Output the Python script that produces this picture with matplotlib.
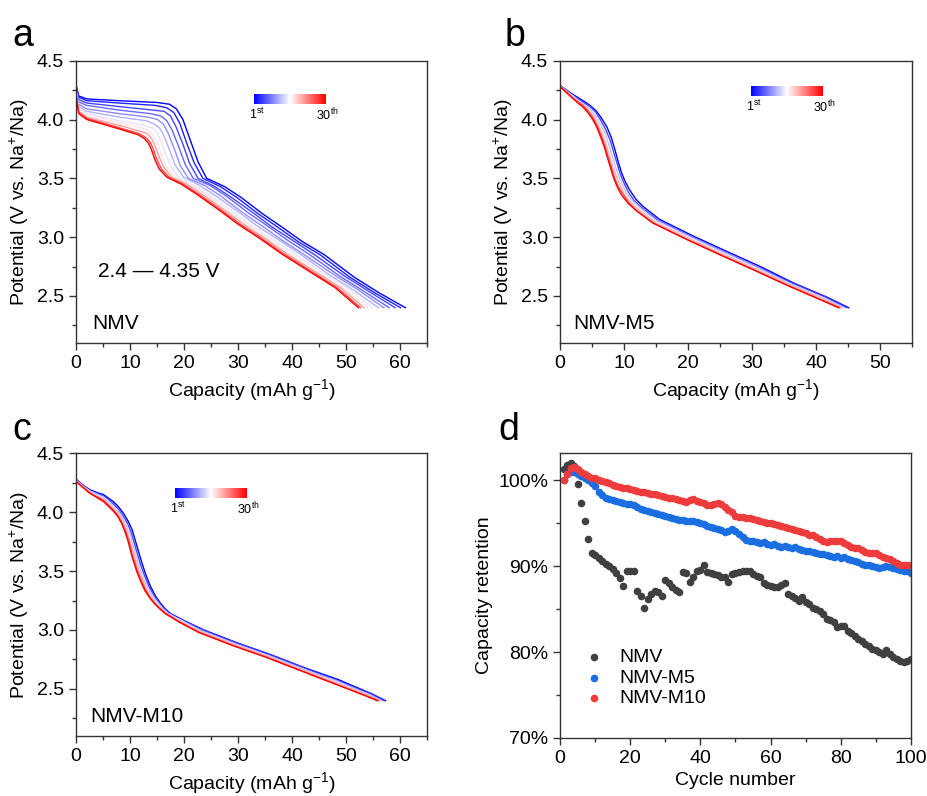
import numpy as np
import matplotlib
matplotlib.use('Agg')
import matplotlib.pyplot as plt
from matplotlib.ticker import MultipleLocator

plt.rcParams['font.family'] = ['Liberation Sans', 'DejaVu Sans']
plt.rcParams['mathtext.fontset'] = 'custom'
plt.rcParams['mathtext.rm'] = 'Liberation Sans'
plt.rcParams['mathtext.it'] = 'Liberation Sans:italic'
plt.rcParams['mathtext.bf'] = 'Liberation Sans:bold'

# ---- panel a: NMV discharge curves (capacity mAh/g, potential V) ----
nmv_cycles = [1, 3, 5, 7, 9, 11, 14, 17, 21, 26, 30]
nmv_cap = [
    [0, 0.5, 2, 8, 15.0, 17.3, 18.6, 19.8, 21.2, 22.6, 24.2, 27.5, 30.5, 34.5, 38.0, 42.0, 46.0, 51.5, 56.0, 61.0],
    [0, 0.5, 2, 8, 14.7, 16.8, 18.1, 19.2, 20.5, 21.9, 23.5, 26.7, 29.7, 33.7, 37.2, 41.2, 45.2, 50.7, 55.2, 60.1],
    [0, 0.5, 2, 8, 14.2, 16.3, 17.5, 18.5, 19.8, 21.0, 22.6, 25.7, 28.7, 32.7, 36.2, 40.2, 44.2, 49.7, 54.2, 59.1],
    [0, 0.5, 2, 8, 13.8, 15.7, 16.8, 17.8, 19.0, 20.2, 21.7, 24.8, 27.8, 31.8, 35.3, 39.3, 43.3, 48.8, 53.3, 58.0],
    [0, 0.5, 2, 8, 13.4, 15.1, 16.2, 17.1, 18.2, 19.3, 20.8, 23.8, 26.8, 30.8, 34.3, 38.3, 42.3, 47.8, 52.3, 57.0],
    [0, 0.5, 2, 8, 13.0, 14.6, 15.6, 16.4, 17.4, 18.4, 19.9, 22.9, 25.9, 29.9, 33.4, 37.4, 41.4, 46.9, 51.4, 56.0],
    [0, 0.5, 2, 8, 12.6, 14.0, 15.0, 15.7, 16.6, 17.6, 19.0, 21.9, 24.9, 28.9, 32.4, 36.4, 40.4, 45.9, 50.4, 54.9],
    [0, 0.5, 2, 8, 12.2, 13.5, 14.4, 15.2, 15.9, 16.8, 18.3, 21.1, 24.1, 28.1, 31.6, 35.6, 39.6, 45.1, 49.6, 54.0],
    [0, 0.5, 2, 8, 11.9, 13.2, 14.0, 14.7, 15.4, 16.3, 17.7, 20.5, 23.5, 27.5, 31.0, 35.0, 39.0, 44.5, 49.0, 53.3],
    [0, 0.5, 2, 8, 11.7, 12.8, 13.7, 14.3, 14.9, 15.8, 17.2, 19.9, 22.9, 26.9, 30.4, 34.4, 38.4, 43.9, 48.4, 52.7],
    [0, 0.5, 2, 8, 11.5, 12.6, 13.4, 14.0, 14.6, 15.4, 16.8, 19.5, 22.5, 26.5, 30.0, 34.0, 38.0, 43.5, 48.0, 52.3],
]
nmv_volt = [
    [4.30, 4.20, 4.175, 4.16, 4.145, 4.13, 4.09, 4.00, 3.82, 3.64, 3.50, 3.43, 3.34, 3.20, 3.09, 2.96, 2.85, 2.66, 2.53, 2.40],
    [4.29, 4.19, 4.16, 4.14, 4.12, 4.10, 4.06, 3.97, 3.80, 3.63, 3.50, 3.43, 3.34, 3.20, 3.09, 2.96, 2.85, 2.66, 2.53, 2.40],
    [4.28, 4.17, 4.14, 4.11, 4.08, 4.07, 4.03, 3.94, 3.79, 3.63, 3.50, 3.43, 3.34, 3.21, 3.09, 2.97, 2.85, 2.67, 2.54, 2.40],
    [4.27, 4.15, 4.12, 4.08, 4.05, 4.03, 3.99, 3.91, 3.77, 3.62, 3.50, 3.44, 3.35, 3.21, 3.10, 2.97, 2.85, 2.67, 2.54, 2.40],
    [4.26, 4.13, 4.09, 4.05, 4.02, 4.00, 3.96, 3.88, 3.75, 3.61, 3.50, 3.44, 3.35, 3.21, 3.10, 2.97, 2.85, 2.68, 2.55, 2.40],
    [4.25, 4.11, 4.07, 4.02, 3.99, 3.96, 3.92, 3.85, 3.73, 3.61, 3.51, 3.44, 3.35, 3.22, 3.10, 2.98, 2.86, 2.68, 2.55, 2.40],
    [4.24, 4.10, 4.05, 3.99, 3.95, 3.93, 3.89, 3.82, 3.71, 3.60, 3.51, 3.44, 3.35, 3.22, 3.10, 2.98, 2.86, 2.69, 2.56, 2.40],
    [4.24, 4.08, 4.04, 3.97, 3.93, 3.90, 3.86, 3.79, 3.69, 3.59, 3.51, 3.45, 3.36, 3.22, 3.11, 2.98, 2.86, 2.69, 2.56, 2.40],
    [4.23, 4.07, 4.02, 3.95, 3.90, 3.88, 3.84, 3.77, 3.68, 3.59, 3.51, 3.45, 3.36, 3.23, 3.11, 2.99, 2.86, 2.70, 2.57, 2.40],
    [4.22, 4.06, 4.01, 3.93, 3.88, 3.85, 3.81, 3.75, 3.67, 3.58, 3.51, 3.45, 3.36, 3.23, 3.11, 2.99, 2.86, 2.70, 2.57, 2.40],
    [4.22, 4.05, 4.00, 3.92, 3.87, 3.84, 3.80, 3.74, 3.66, 3.58, 3.51, 3.45, 3.36, 3.23, 3.11, 2.99, 2.86, 2.70, 2.57, 2.40],
]

# ---- panel b: NMV-M5 ----
m5_cycles = [1, 5, 12, 20, 26, 30]
m5_cap = [
    [0, 1.0, 2.1, 3.0, 3.9, 4.8, 5.7, 6.5, 7.3, 8.0, 8.6, 9.1, 9.6, 10.2, 10.9, 11.9, 13.0, 15.6, 20.8, 26.0, 31.3, 36.5, 41.7, 45.1],
    [0, 1.0, 2.1, 3.0, 3.8, 4.7, 5.6, 6.3, 7.1, 7.8, 8.4, 8.9, 9.4, 10.0, 10.6, 11.6, 12.8, 15.4, 20.6, 25.8, 31.1, 36.3, 41.5, 44.8],
    [0, 1.0, 2.1, 2.9, 3.7, 4.5, 5.4, 6.1, 6.9, 7.5, 8.1, 8.6, 9.1, 9.7, 10.3, 11.3, 12.5, 15.1, 20.4, 25.6, 30.9, 36.1, 41.2, 44.4],
    [0, 1.0, 2.0, 2.9, 3.6, 4.4, 5.2, 5.9, 6.6, 7.2, 7.8, 8.3, 8.8, 9.4, 10.0, 11.0, 12.2, 14.8, 20.1, 25.3, 30.6, 35.8, 40.9, 44.0],
    [0, 1.0, 2.0, 2.8, 3.6, 4.3, 5.1, 5.8, 6.4, 7.0, 7.6, 8.1, 8.5, 9.1, 9.8, 10.8, 11.9, 14.6, 19.9, 25.1, 30.4, 35.6, 40.7, 43.7],
    [0, 1.0, 2.0, 2.8, 3.5, 4.2, 5.0, 5.7, 6.3, 6.9, 7.5, 8.0, 8.4, 9.0, 9.6, 10.6, 11.8, 14.5, 19.8, 25.0, 30.3, 35.5, 40.6, 43.5],
]
m5_volt = [
    [4.29, 4.25, 4.21, 4.18, 4.15, 4.115, 4.07, 4.01, 3.94, 3.85, 3.74, 3.64, 3.55, 3.47, 3.40, 3.32, 3.26, 3.15, 3.01, 2.88, 2.75, 2.61, 2.49, 2.40],
    [4.29, 4.25, 4.20, 4.17, 4.14, 4.11, 4.06, 4.00, 3.92, 3.83, 3.72, 3.63, 3.54, 3.46, 3.39, 3.31, 3.25, 3.14, 3.00, 2.87, 2.74, 2.61, 2.49, 2.40],
    [4.29, 4.24, 4.20, 4.16, 4.13, 4.10, 4.04, 3.98, 3.90, 3.81, 3.70, 3.61, 3.53, 3.45, 3.38, 3.31, 3.25, 3.14, 3.00, 2.87, 2.74, 2.60, 2.48, 2.40],
    [4.28, 4.24, 4.19, 4.15, 4.12, 4.08, 4.03, 3.96, 3.88, 3.79, 3.68, 3.59, 3.52, 3.44, 3.37, 3.30, 3.24, 3.13, 2.99, 2.86, 2.73, 2.60, 2.48, 2.40],
    [4.28, 4.23, 4.18, 4.15, 4.12, 4.08, 4.02, 3.95, 3.87, 3.78, 3.67, 3.58, 3.51, 3.43, 3.37, 3.29, 3.23, 3.12, 2.98, 2.85, 2.72, 2.59, 2.47, 2.40],
    [4.28, 4.23, 4.18, 4.14, 4.11, 4.07, 4.01, 3.94, 3.86, 3.77, 3.66, 3.57, 3.50, 3.42, 3.36, 3.29, 3.23, 3.12, 2.98, 2.85, 2.72, 2.59, 2.47, 2.40],
]

# ---- panel c: NMV-M10 ----
m10_cycles = [1, 5, 12, 20, 26, 30]
m10_cap = [
    [0, 1.3, 2.6, 4.0, 5.1, 6.0, 6.9, 7.8, 8.8, 9.7, 10.4, 11.3, 12.2, 13.0, 13.8, 14.7, 15.6, 16.5, 17.5, 20.0, 23.7, 29.9, 36.1, 42.3, 48.5, 54.7, 57.3],
    [0, 1.3, 2.6, 4.0, 5.1, 6.0, 6.9, 7.8, 8.7, 9.6, 10.2, 11.1, 12.0, 12.8, 13.6, 14.5, 15.4, 16.3, 17.3, 19.8, 23.5, 29.7, 35.9, 42.1, 48.3, 54.5, 57.0],
    [0, 1.3, 2.6, 4.0, 5.1, 6.0, 6.9, 7.8, 8.7, 9.4, 10.0, 10.9, 11.8, 12.6, 13.4, 14.3, 15.2, 16.1, 17.1, 19.6, 23.3, 29.5, 35.7, 41.9, 48.1, 54.3, 56.6],
    [0, 1.3, 2.6, 4.0, 5.1, 6.0, 6.9, 7.8, 8.6, 9.3, 9.8, 10.7, 11.6, 12.4, 13.1, 14.0, 14.9, 15.8, 16.8, 19.3, 23.0, 29.2, 35.4, 41.6, 47.8, 54.0, 56.3],
    [0, 1.3, 2.6, 4.0, 5.1, 6.0, 6.9, 7.8, 8.5, 9.2, 9.7, 10.5, 11.4, 12.2, 12.9, 13.8, 14.7, 15.6, 16.6, 19.1, 22.8, 29.0, 35.2, 41.4, 47.6, 53.8, 56.0],
    [0, 1.3, 2.6, 4.0, 5.1, 6.0, 6.9, 7.8, 8.5, 9.1, 9.6, 10.4, 11.3, 12.1, 12.8, 13.7, 14.6, 15.5, 16.5, 19.0, 22.7, 28.9, 35.1, 41.3, 47.5, 53.7, 55.8],
]
m10_volt = [
    [4.28, 4.23, 4.19, 4.165, 4.15, 4.12, 4.09, 4.05, 3.99, 3.92, 3.85, 3.71, 3.57, 3.46, 3.37, 3.29, 3.23, 3.18, 3.14, 3.08, 3.00, 2.89, 2.79, 2.68, 2.58, 2.46, 2.40],
    [4.28, 4.23, 4.18, 4.16, 4.14, 4.11, 4.07, 4.03, 3.97, 3.90, 3.83, 3.69, 3.55, 3.45, 3.36, 3.29, 3.23, 3.18, 3.14, 3.08, 3.00, 2.89, 2.79, 2.68, 2.57, 2.46, 2.40],
    [4.27, 4.22, 4.18, 4.15, 4.12, 4.09, 4.05, 4.01, 3.95, 3.88, 3.81, 3.67, 3.53, 3.43, 3.35, 3.28, 3.23, 3.18, 3.14, 3.08, 2.99, 2.88, 2.78, 2.67, 2.57, 2.45, 2.40],
    [4.27, 4.22, 4.17, 4.13, 4.11, 4.07, 4.03, 3.99, 3.93, 3.86, 3.79, 3.65, 3.51, 3.42, 3.34, 3.28, 3.22, 3.18, 3.14, 3.07, 2.99, 2.88, 2.78, 2.67, 2.56, 2.45, 2.40],
    [4.26, 4.21, 4.16, 4.13, 4.10, 4.06, 4.02, 3.97, 3.91, 3.84, 3.77, 3.63, 3.50, 3.41, 3.34, 3.27, 3.22, 3.18, 3.14, 3.07, 2.98, 2.87, 2.77, 2.66, 2.55, 2.44, 2.40],
    [4.26, 4.21, 4.16, 4.12, 4.09, 4.05, 4.01, 3.96, 3.90, 3.83, 3.76, 3.62, 3.49, 3.40, 3.33, 3.27, 3.22, 3.18, 3.14, 3.07, 2.98, 2.87, 2.77, 2.66, 2.55, 2.44, 2.40],
]

# ---- panel d: capacity retention (%) vs cycle ----
cycle_no = list(range(1, 101))
ret_nmv = [
    101.3, 101.8, 102.0, 101.7, 99.6, 97.4, 95.3, 93.2, 91.6, 91.3,
    91.0, 90.6, 90.3, 90.0, 89.7, 89.2, 88.6, 87.7, 89.4, 89.5,
    89.4, 87.1, 86.6, 85.2, 86.2, 86.8, 87.1, 87.0, 86.6, 88.4,
    88.0, 87.6, 87.2, 87.0, 89.3, 89.2, 88.2, 88.7, 89.5, 89.6,
    90.1, 89.3, 89.2, 89.1, 89.0, 88.8, 88.7, 88.2, 89.1, 89.2,
    89.3, 89.5, 89.4, 89.5, 89.1, 88.9, 88.75, 88.0, 87.8, 87.7,
    87.6, 87.6, 87.8, 88.0, 86.8, 86.5, 86.3, 86.0, 86.4, 85.8,
    85.6, 85.2, 85.0, 84.8, 84.5, 83.9, 83.7, 83.5, 82.9, 83.0,
    83.1, 82.5, 82.2, 81.9, 81.5, 81.3, 81.0, 80.7, 80.4, 80.2,
    80.0, 79.8, 80.2, 79.8, 79.4, 79.2, 79.0, 78.8, 79.0, 79.2,
]
ret_m5 = [
    100.0, 100.7, 101.0, 101.0, 100.8, 100.5, 100.3, 100.0, 99.7, 99.3,
    98.6, 98.3, 98.0, 97.8, 97.7, 97.6, 97.5, 97.4, 97.3, 97.3,
    97.1, 96.9, 96.7, 96.6, 96.5, 96.3, 96.2, 96.1, 96.0, 95.9,
    95.8, 95.6, 95.5, 95.4, 95.4, 95.3, 95.3, 95.3, 95.2, 95.0,
    94.9, 94.7, 94.6, 94.5, 94.3, 94.2, 94.0, 94.1, 94.3, 94.1,
    93.8, 93.4, 93.1, 93.0, 92.9, 92.8, 92.7, 92.8, 92.6, 92.5,
    92.6, 92.4, 92.3, 92.4, 92.2, 92.1, 92.2, 92.0, 91.9, 91.8,
    91.8, 91.7, 91.5, 91.4, 91.4, 91.3, 91.2, 91.1, 91.2, 91.0,
    91.1, 90.9, 90.7, 90.6, 90.5, 90.3, 90.2, 90.1, 90.0, 89.9,
    89.8, 89.9, 90.0, 89.9, 89.8, 89.7, 89.6, 89.5, 89.4, 89.2,
]
ret_m10 = [
    100.1, 100.8, 101.4, 101.6, 101.3, 101.0, 100.7, 100.5, 100.3, 100.3,
    100.1, 99.9, 99.8, 99.7, 99.5, 99.3, 99.2, 99.1, 99.1, 99.0,
    98.9, 98.8, 98.7, 98.6, 98.5, 98.4, 98.4, 98.3, 98.2, 98.1,
    98.0, 97.9, 97.8, 97.7, 97.6, 97.5, 97.7, 97.8, 97.6, 97.5,
    97.4, 97.2, 97.2, 97.3, 97.4, 97.3, 96.9, 96.6, 96.3, 95.9,
    95.8, 95.7, 95.6, 95.6, 95.5, 95.4, 95.3, 95.2, 95.1, 95.0,
    94.9, 94.8, 94.7, 94.6, 94.5, 94.3, 94.2, 94.1, 94.0, 93.9,
    93.7, 93.6, 93.4, 93.2, 93.0, 92.8, 92.9, 93.0, 92.9, 92.9,
    92.7, 92.5, 92.3, 92.1, 92.1, 91.9, 91.7, 91.6, 91.5, 91.5,
    91.3, 91.1, 91.0, 90.9, 90.6, 90.4, 90.2, 90.1, 90.2, 90.1,
]

cmap = plt.get_cmap('bwr')
W, H = 928, 796
fig = plt.figure(figsize=(W / 100, H / 100), dpi=100)


def px_axes(x0, y0, x1, y1):
    # axes from pixel box (top-left origin)
    return fig.add_axes([x0 / W, 1 - y1 / H, (x1 - x0) / W, (y1 - y0) / H])


def style(ax):
    for sp in ax.spines.values():
        sp.set_color('#333333')
        sp.set_linewidth(1.0)
    ax.tick_params(which='both', direction='out', top=False, right=False,
                   labelsize=14, color='#333333')
    ax.tick_params(which='major', length=5, width=1.0)
    ax.tick_params(which='minor', length=3, width=1.0)


def curves_panel(ax, cycles, caps, volts, xmax):
    for cyc, c, v in zip(cycles, caps, volts):
        ax.plot(c, v, color=cmap((cyc - 1) / 29), lw=1.0)
    ax.set_xlim(0, xmax)
    ax.set_ylim(2.1, 4.5)
    ax.xaxis.set_major_locator(MultipleLocator(10))
    ax.xaxis.set_minor_locator(MultipleLocator(5))
    ax.yaxis.set_major_locator(MultipleLocator(0.5))
    ax.yaxis.set_minor_locator(MultipleLocator(0.25))
    ax.set_xlabel('Capacity (mAh g$^{-1}$)', fontsize=14)
    ax.set_ylabel('Potential (V vs. Na$^{+}$/Na)', fontsize=14)
    style(ax)


def cycle_bar(x0, y0, x1, y1):
    cax = px_axes(x0, y0, x1, y1)
    cax.imshow(np.linspace(0, 1, 256)[None, :], aspect='auto', cmap=cmap)
    cax.set_axis_off()
    fig.text((x0 + 3) / W, 1 - (y1 + 3) / H, '1$^{\\mathrm{st}}$', fontsize=9,
             ha='center', va='top')
    fig.text((x1 + 1) / W, 1 - (y1 + 3) / H, '30$^{\\mathrm{th}}$', fontsize=9,
             ha='center', va='top')


# a
ax_a = px_axes(76, 60.7, 427, 343)
curves_panel(ax_a, nmv_cycles, nmv_cap, nmv_volt, 65)
ax_a.text(0.063, 0.235, '2.4 \u2014 4.35 V', transform=ax_a.transAxes, fontsize=15)
ax_a.text(0.046, 0.05, 'NMV', transform=ax_a.transAxes, fontsize=15)
cycle_bar(254, 94, 326, 104)

# b
ax_b = px_axes(560, 60.7, 912, 343)
curves_panel(ax_b, m5_cycles, m5_cap, m5_volt, 55)
ax_b.text(0.037, 0.05, 'NMV-M5', transform=ax_b.transAxes, fontsize=15)
cycle_bar(751, 86, 823, 96)

# c
ax_c = px_axes(76, 453.3, 427, 736)
curves_panel(ax_c, m10_cycles, m10_cap, m10_volt, 65)
ax_c.text(0.04, 0.05, 'NMV-M10', transform=ax_c.transAxes, fontsize=15)
cycle_bar(175, 488, 247, 498)

# d
ax_d = px_axes(560, 453, 911, 738)
ax_d.scatter(cycle_no, ret_nmv, s=30, color='#404040', linewidths=0, label='NMV')
ax_d.scatter(cycle_no, ret_m5, s=30, color='#1a6ee0', linewidths=0, label='NMV-M5')
ax_d.scatter(cycle_no, ret_m10, s=30, color='#ee3b3b', linewidths=0, label='NMV-M10')
ax_d.set_xlim(0, 100)
ax_d.set_ylim(70, 103.2)
ax_d.xaxis.set_major_locator(MultipleLocator(20))
ax_d.xaxis.set_minor_locator(MultipleLocator(10))
ax_d.set_yticks([70, 80, 90, 100])
ax_d.set_yticklabels(['70%', '80%', '90%', '100%'])
ax_d.yaxis.set_minor_locator(MultipleLocator(5))
ax_d.set_xlabel('Cycle number', fontsize=14)
ax_d.set_ylabel('Capacity retention', fontsize=14)
style(ax_d)
ax_d.legend(loc='lower left', bbox_to_anchor=(0.03, 0.08), frameon=False,
            fontsize=14, handlelength=1.6, handletextpad=0.5,
            labelspacing=0.15, borderaxespad=0)

# panel letters
for lab, x, y in [('a', 12, 46), ('b', 505, 46), ('c', 12, 440), ('d', 498, 440)]:
    fig.text(x / W, 1 - y / H, lab, fontsize=27)

fig.savefig('out.png', dpi=100)
